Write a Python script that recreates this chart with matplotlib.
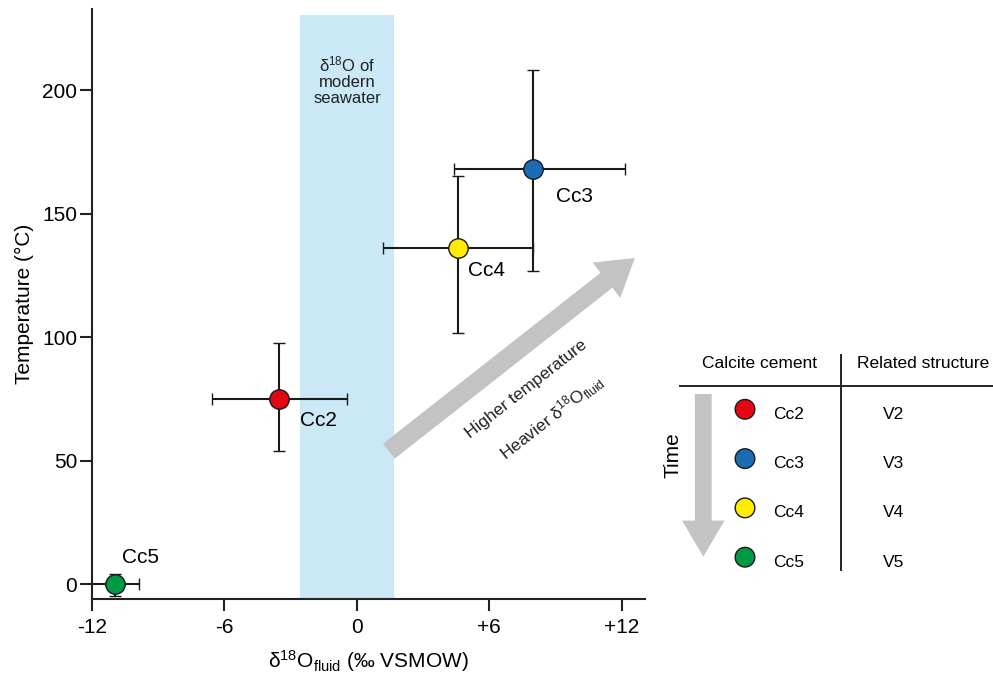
import matplotlib
matplotlib.use('Agg')
import matplotlib.pyplot as plt

plt.rcParams['font.family'] = ['Liberation Sans', 'DejaVu Sans']
plt.rcParams['mathtext.default'] = 'regular'

# calcite cements: d18O of fluid vs temperature
cements = ['Cc2', 'Cc3', 'Cc4', 'Cc5']
structures = ['V2', 'V3', 'V4', 'V5']
colors = ['#e30613', '#1a6db5', '#ffec00', '#009a44']
d18o = [-3.52, 7.96, 4.56, -10.96]
d18o_err_lo = [3.06, 3.55, 3.37, 1.09]
d18o_err_hi = [3.06, 4.19, 3.40, 1.07]
temp = [74.8, 168.1, 135.9, 0.0]
temp_err_lo = [20.8, 41.3, 34.2, 4.9]
temp_err_hi = [22.9, 40.0, 29.3, 4.0]

seawater_d18o = (-2.6, 1.7)
seawater_top = 230.4

x_ticks = [-12, -6, 0, 6, 12]
x_ticklabels = ['-12', '-6', '0', '+6', '+12']
y_ticks = [0, 50, 100, 150, 200]

W, H = 993, 683
fig = plt.figure(figsize=(W / 100, H / 100), dpi=100)
ax = fig.add_axes([92 / W, 1 - 599 / H, (645 - 92) / W, (599 - 9) / H])
ax.set_xlim(-12, 13.05)
ax.set_ylim(-6.07, 232.8)

# modern seawater band
ax.fill_betweenx([-6.07, seawater_top], seawater_d18o[0], seawater_d18o[1],
                 color='#cae8f5', lw=0, zorder=0)
ax.text(sum(seawater_d18o) / 2, 204, '\u03b4$^{18}$O of\nmodern\nseawater',
        ha='center', va='center', fontsize=12, linespacing=1.05, color='#222222')

# trend arrow
ax.annotate('', xy=(12.59, 132), xytext=(1.45, 53.8),
            arrowprops=dict(width=13.7, headwidth=32.4, headlength=26,
                            shrink=0, color='#c3c3c3', lw=0))
ax.text(7.66, 79, 'Higher temperature', rotation=38, rotation_mode='anchor',
        ha='center', va='center', fontsize=12.5, color='#222222')
ax.text(8.83, 67.6, 'Heavier \u03b4$^{18}$O$_{fluid}$', rotation=38, rotation_mode='anchor',
        ha='center', va='center', fontsize=12.5, color='#222222')

label_offsets = [(21, -21), (23, -28), (10, -22), (7, 27)]
for i, name in enumerate(cements):
    ax.errorbar(d18o[i], temp[i],
                xerr=[[d18o_err_lo[i]], [d18o_err_hi[i]]],
                yerr=[[temp_err_lo[i]], [temp_err_hi[i]]],
                fmt='o', ms=14, mfc=colors[i], mec='#1a1a1a', mew=1.0,
                ecolor='#1a1a1a', elinewidth=1.5, capsize=4.5, capthick=1.5, zorder=3)
    ax.annotate(name, (d18o[i], temp[i]), xytext=label_offsets[i],
                textcoords='offset pixels', ha='left', va='center', fontsize=15)

for s in ['top', 'right']:
    ax.spines[s].set_visible(False)
for s in ['left', 'bottom']:
    ax.spines[s].set_linewidth(1.5)
    ax.spines[s].set_color('#222222')
ax.set_xticks(x_ticks)
ax.set_xticklabels(x_ticklabels)
ax.set_yticks(y_ticks)
ax.tick_params(axis='both', length=8.6, width=1.5, color='#222222', labelsize=15)
ax.tick_params(axis='x', pad=5)
ax.tick_params(axis='y', pad=2)
ax.set_xlabel('\u03b4$^{18}$O$_{fluid}$ (\u2030 VSMOW)', fontsize=15, labelpad=8)
ax.set_ylabel('Temperature (\u00b0C)', fontsize=15, labelpad=6)

# legend table drawn in pixel coordinates
lg = fig.add_axes([0, 0, 1, 1])
lg.set_xlim(0, W)
lg.set_ylim(H, 0)
lg.axis('off')
lg.text(760, 363, 'Calcite cement', ha='center', va='center', fontsize=12.5)
lg.text(857, 363, 'Related structure', ha='left', va='center', fontsize=12.5)
lg.plot([680, W], [386, 386], color='#222222', lw=1.4)
lg.plot([841, 841], [355, 570], color='#222222', lw=1.4)
row_y = [409.3 + 49.3 * i for i in range(len(cements))]
lg.scatter([745] * len(cements), row_y, s=200, c=colors, edgecolors='#1a1a1a',
           linewidths=1.0, zorder=3)
for y, name, st in zip(row_y, cements, structures):
    lg.text(773, y + 5, name, ha='left', va='center', fontsize=12.5)
    lg.text(883, y + 5, st, ha='left', va='center', fontsize=12.5)
lg.annotate('', xy=(703.3, 556.7), xytext=(703.3, 394),
            arrowprops=dict(width=12, headwidth=30.5, headlength=26,
                            shrink=0, color='#c3c3c3', lw=0))
lg.text(672.7, 455, 'Time', rotation=90, ha='center', va='center', fontsize=15)

fig.savefig('out.png', dpi=100)
